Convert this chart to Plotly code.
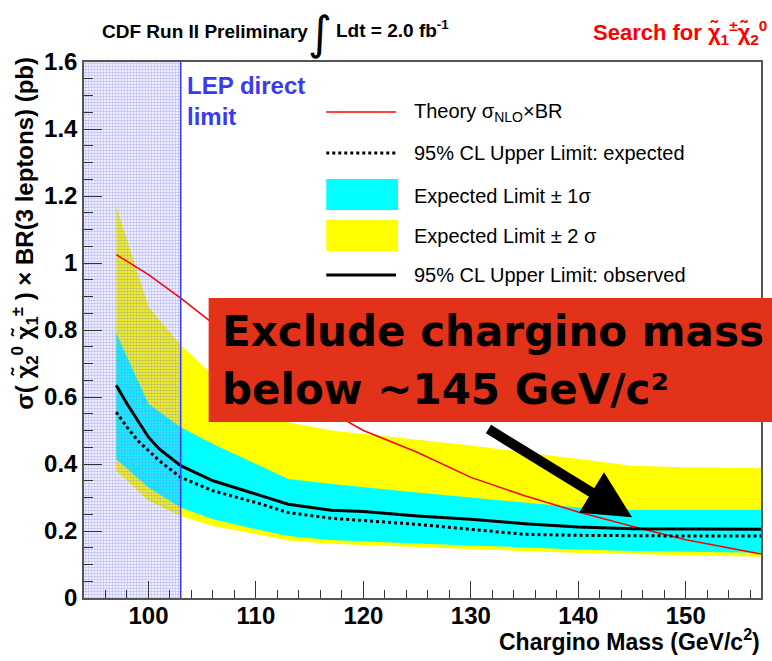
import plotly.graph_objects as go

# ---------------- data ----------------
band_mass = [97, 100, 103, 106, 110, 113, 117, 120, 125, 130, 135, 140, 145, 150, 157]
sig2_up   = [1.17, 0.87, 0.755, 0.665, 0.58, 0.525, 0.50, 0.49, 0.472, 0.455, 0.435, 0.415, 0.395, 0.39, 0.387]
sig1_up   = [0.79, 0.58, 0.51, 0.46, 0.40, 0.355, 0.34, 0.33, 0.315, 0.30, 0.285, 0.27, 0.263, 0.263, 0.263]
sig1_dn   = [0.415, 0.33, 0.27, 0.235, 0.205, 0.185, 0.173, 0.17, 0.163, 0.157, 0.15, 0.145, 0.14, 0.138, 0.135]
sig2_dn   = [0.38, 0.29, 0.245, 0.215, 0.19, 0.172, 0.162, 0.158, 0.152, 0.145, 0.14, 0.134, 0.13, 0.127, 0.123]

lim_mass  = [97, 98, 99, 100, 101, 103, 106, 110, 113, 117, 120, 125, 130, 135, 140, 145, 150, 157]
observed  = [0.635, 0.58, 0.53, 0.48, 0.445, 0.395, 0.35, 0.31, 0.28, 0.262, 0.258, 0.245, 0.235, 0.222, 0.212, 0.207, 0.206, 0.205]
expected  = [0.555, 0.51, 0.47, 0.44, 0.41, 0.36, 0.32, 0.285, 0.255, 0.238, 0.232, 0.22, 0.205, 0.19, 0.187, 0.185, 0.185, 0.185]

theory_mass = [97, 100, 103, 106, 110, 115, 120, 125, 130, 135, 140, 145, 150, 155, 157]
theory      = [1.025, 0.965, 0.895, 0.82, 0.71, 0.59, 0.50, 0.435, 0.36, 0.305, 0.257, 0.214, 0.174, 0.142, 0.131]

lep_limit = 103
x_range = [94, 157]
y_range = [0, 1.6]

legend_labels = ["Theory σ<sub>NLO</sub>×BR",
                 "95% CL Upper Limit: expected",
                 "Expected Limit ± 1σ",
                 "Expected Limit ± 2 σ",
                 "95% CL Upper Limit: observed"]

# ---------------- layout helpers ----------------
W, H = 772, 661
L, R, T, B = 84, 9, 62, 63
PW, PH = W - L - R, H - T - B


def px(x):
    return (x - L) / PW


def py(y):
    return (H - B - y) / PH


FONT = "Liberation Sans, Arial, sans-serif"
YEL = "#ffff00"
CYA = "#00ffff"
BLUE = "#3a3af0"

fig = go.Figure()

# yellow 2 sigma band
fig.add_trace(go.Scatter(x=band_mass + band_mass[::-1], y=sig2_up + sig2_dn[::-1],
                         fill="toself", fillcolor=YEL, line=dict(width=0),
                         mode="lines", hoverinfo="skip", showlegend=False))
# cyan 1 sigma band
fig.add_trace(go.Scatter(x=band_mass + band_mass[::-1], y=sig1_up + sig1_dn[::-1],
                         fill="toself", fillcolor=CYA, line=dict(width=0),
                         mode="lines", hoverinfo="skip", showlegend=False))
# hatched LEP excluded region
fig.add_trace(go.Scatter(x=[x_range[0], lep_limit, lep_limit, x_range[0]],
                         y=[y_range[0], y_range[0], y_range[1], y_range[1]],
                         fill="toself", fillcolor="rgba(0,0,0,0)",
                         fillpattern=dict(shape=".", size=3, solidity=0.55,
                                          fgcolor="#7f7ff2", bgcolor="rgba(0,0,0,0)"),
                         line=dict(width=0), mode="lines", hoverinfo="skip", showlegend=False))
# theory
fig.add_trace(go.Scatter(x=theory_mass, y=theory, mode="lines",
                         line=dict(color="#ff0000", width=1.5), showlegend=False))
# expected
fig.add_trace(go.Scatter(x=lim_mass, y=expected, mode="lines",
                         line=dict(color="black", width=3, dash="dot"), showlegend=False))
# observed
fig.add_trace(go.Scatter(x=lim_mass, y=observed, mode="lines",
                         line=dict(color="black", width=3), showlegend=False))

shapes = []
# LEP line
shapes.append(dict(type="line", xref="x", yref="paper", x0=lep_limit, x1=lep_limit, y0=0, y1=1,
                   line=dict(color=BLUE, width=1.5), layer="above"))
# legend symbols
lx0, lx1 = px(327), px(397)
shapes.append(dict(type="line", xref="paper", yref="paper", x0=lx0, x1=lx1, y0=py(112), y1=py(112),
                   line=dict(color="#ff0000", width=1.5)))
shapes.append(dict(type="line", xref="paper", yref="paper", x0=lx0, x1=lx1, y0=py(153), y1=py(153),
                   line=dict(color="black", width=3, dash="dot")))
shapes.append(dict(type="rect", xref="paper", yref="paper", x0=px(327), x1=px(399), y0=py(210), y1=py(179),
                   fillcolor=CYA, line=dict(width=0)))
shapes.append(dict(type="rect", xref="paper", yref="paper", x0=px(327), x1=px(399), y0=py(251), y1=py(220),
                   fillcolor=YEL, line=dict(width=0)))
shapes.append(dict(type="line", xref="paper", yref="paper", x0=lx0, x1=lx1, y0=py(275), y1=py(275),
                   line=dict(color="black", width=3)))
# red box
shapes.append(dict(type="rect", xref="paper", yref="paper", x0=px(209), x1=px(775), y0=py(422), y1=py(298),
                   fillcolor="#e2321a", line=dict(width=0), layer="above"))

annotations = []
for lab, yc in zip(legend_labels, [112, 153, 196, 236, 275]):
    annotations.append(dict(text=lab, xref="paper", yref="paper", x=px(413), y=py(yc),
                            xanchor="left", yanchor="middle", showarrow=False,
                            font=dict(family=FONT, size=20, color="black")))
# LEP text
annotations.append(dict(text="<b>LEP direct<br>limit</b>", xref="paper", yref="paper",
                        x=px(185), y=py(70), xanchor="left", yanchor="top", align="left",
                        showarrow=False, font=dict(family=FONT, size=24, color=BLUE)))
# exclusion text
annotations.append(dict(text="<b>Exclude chargino mass</b>", xref="paper", yref="paper",
                        x=px(220), y=py(331), xanchor="left", yanchor="middle", showarrow=False,
                        font=dict(family="DejaVu Sans, sans-serif", size=42, color="black")))
annotations.append(dict(text="<b>below ~145 GeV/c²</b>", xref="paper", yref="paper",
                        x=px(220), y=py(389), xanchor="left", yanchor="middle", showarrow=False,
                        font=dict(family="DejaVu Sans, sans-serif", size=42, color="black")))
# arrow
annotations.append(dict(text="", x=145.0, y=0.241, xref="x", yref="y",
                        ax=131.5, ay=0.507, axref="x", ayref="y", showarrow=True,
                        arrowhead=2, arrowsize=0.95, arrowwidth=10, arrowcolor="black", standoff=0))
# top titles
annotations.append(dict(text="<b>CDF Run II Preliminary</b>", xref="paper", yref="paper",
                        x=px(100), y=py(31), xanchor="left", yanchor="middle", showarrow=False,
                        font=dict(family=FONT, size=19, color="black")))
annotations.append(dict(text="∫", xref="paper", yref="paper",
                        x=px(321), y=py(33), xanchor="center", yanchor="middle", showarrow=False,
                        font=dict(family="DejaVu Sans, sans-serif", size=46, color="black")))
annotations.append(dict(text="<b>Ldt = 2.0 fb<sup>-1</sup></b>", xref="paper", yref="paper",
                        x=px(335), y=py(29), xanchor="left", yanchor="middle", showarrow=False,
                        font=dict(family=FONT, size=19, color="black")))
annotations.append(dict(text="<b>Search for χ̃<sub>1</sub><sup>±</sup>χ̃<sub>2</sub><sup>0</sup></b>",
                        xref="paper", yref="paper",
                        x=px(592), y=py(33), xanchor="left", yanchor="middle", showarrow=False,
                        font=dict(family=FONT, size=22, color="#ff0000")))
# axis titles
annotations.append(dict(text="<b>σ( χ̃<sub>2</sub><sup>0</sup> χ̃<sub>1</sub><sup>±</sup> ) × BR(3 leptons) (pb)</b>",
                        xref="paper", yref="paper", x=px(24), y=py(55),
                        xanchor="center", yanchor="top", textangle=-90, showarrow=False,
                        font=dict(family=FONT, size=24, color="black")))
annotations.append(dict(text="<b>Chargino Mass (GeV/c<sup>2</sup>)</b>", xref="paper", yref="paper",
                        x=px(764), y=py(640), xanchor="right", yanchor="middle", showarrow=False,
                        font=dict(family=FONT, size=23, color="black")))

fig.update_layout(
    width=W, height=H,
    margin=dict(l=L, r=R, t=T, b=B),
    paper_bgcolor="white", plot_bgcolor="white",
    shapes=shapes, annotations=annotations,
    showlegend=False,
    xaxis=dict(range=x_range, tick0=100, dtick=10, ticks="inside", ticklen=17, tickwidth=1,
               tickcolor="#333", showline=True, linecolor="#555", linewidth=1.5, mirror=True,
               showgrid=False, zeroline=False, ticklabelstandoff=-5,
               minor=dict(dtick=2, ticks="inside", ticklen=8, tickcolor="#333", showgrid=False),
               tickfont=dict(family=FONT, size=24, color="black", weight="bold")),
    yaxis=dict(range=y_range, dtick=0.2, ticks="inside", ticklen=18, tickwidth=1,
               tickcolor="#333", showline=True, linecolor="#555", linewidth=1.5, mirror=True,
               showgrid=False, zeroline=False,
               minor=dict(dtick=0.05, ticks="inside", ticklen=9, tickcolor="#333", showgrid=False),
               tickfont=dict(family=FONT, size=24, color="black", weight="bold")),
)

fig.write_html("out.html", config={"displayModeBar": False},
               post_script="document.body.style.margin='0px';")
